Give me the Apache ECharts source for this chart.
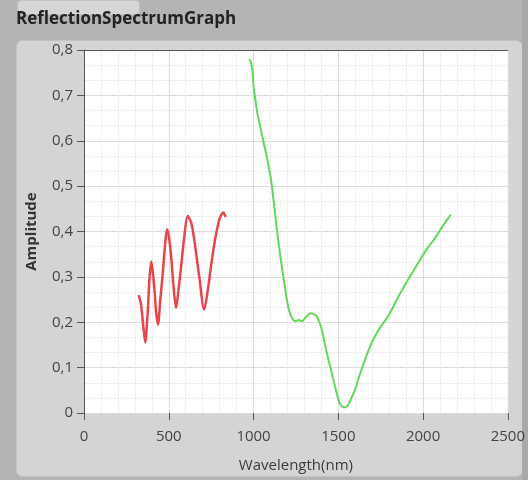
<!DOCTYPE html>
<html>
<head>
<meta charset="utf-8">
<script src="https://cdn.jsdelivr.net/npm/echarts@6/dist/echarts.min.js"></script>
<style>
html,body{margin:0;padding:0;background:#b4b4b4;}
#c{width:528px;height:480px;}
</style>
</head>
<body>
<div id="c"></div>
<script>
var xTicks = [0, 500, 1000, 1500, 2000, 2500];
var yTicks = [0, 0.1, 0.2, 0.3, 0.4, 0.5, 0.6, 0.7, 0.8];

var redWl = [322,330,338,350,362,370,377,387,397,406,416,426,436,450,465,478,490,502,514,528,543,557,573,592,612,632,651,680,709,728,749,772,797,810,821,836];
var redAmp = [0.26,0.25,0.235,0.19,0.155,0.19,0.23,0.30,0.334,0.31,0.27,0.22,0.195,0.25,0.31,0.37,0.405,0.385,0.345,0.28,0.232,0.27,0.323,0.39,0.434,0.42,0.38,0.30,0.228,0.265,0.323,0.38,0.425,0.437,0.442,0.432];

var greenWl = [973,983,993,1000,1010,1022,1037,1051,1063,1075,1088,1100,1110,1120,1133,1145,1162,1178,1193,1208,1228,1247,1266,1286,1310,1335,1355,1373,1388,1403,1422,1442,1457,1471,1486,1501,1515,1530,1545,1559,1578,1598,1627,1657,1686,1716,1755,1794,1823,1852,1890,1930,1960,1989,2020,2058,2090,2116,2140,2163];
var greenAmp = [0.78,0.775,0.755,0.72,0.692,0.662,0.635,0.611,0.59,0.57,0.545,0.522,0.495,0.463,0.42,0.382,0.335,0.294,0.258,0.228,0.208,0.202,0.205,0.202,0.212,0.22,0.218,0.213,0.2,0.183,0.15,0.117,0.095,0.073,0.05,0.029,0.017,0.0126,0.013,0.018,0.034,0.051,0.085,0.117,0.145,0.169,0.193,0.213,0.233,0.255,0.28,0.305,0.324,0.342,0.36,0.379,0.397,0.412,0.425,0.437];

function pairs(a, b) { return a.map(function (v, i) { return [v, b[i]]; }); }

var chart = echarts.init(document.getElementById('c'));
var tickFont = {color: '#444444', fontSize: 15, fontFamily: 'Open Sans'};
chart.setOption({
  backgroundColor: '#b4b4b4',
  animation: false,
  graphic: [
    {type: 'rect', left: 17, top: 0, shape: {width: 122, height: 14, r: 4}, style: {fill: '#d6d6d6', stroke: '#c4c4c4'}, z: -1},
    {type: 'rect', left: 16, top: 40, shape: {width: 506, height: 436, r: 6}, style: {fill: '#d4d4d4', stroke: '#c2c2c2', lineWidth: 1}, z: -1},
    {type: 'rect', left: 522, top: 0, shape: {width: 6, height: 480}, style: {fill: '#a9a9a9'}, z: -1},
    {type: 'text', left: 16, top: 11, style: {text: 'ReflectionSpectrumGraph', fill: '#222222', font: 'bold 17px "Open Sans"'}}
  ],
  grid: {left: 84, right: 17, top: 50, bottom: 67, show: true, backgroundColor: '#ffffff', borderWidth: 0},
  xAxis: [{
    type: 'value', min: 0, max: 2500, interval: 500,
    name: 'Wavelength(nm)', nameLocation: 'middle', nameGap: 45,
    nameTextStyle: {color: '#3c3c3c', fontSize: 15, fontFamily: 'Open Sans'},
    axisLine: {show: false},
    axisTick: {show: true, length: 7, lineStyle: {color: '#555'}},
    axisLabel: Object.assign({margin: 16, formatter: function (v) { return String(v); }}, tickFont),
    splitLine: {show: true, lineStyle: {color: '#dcdcdc', width: 1}},
    minorTick: {show: false, splitNumber: 5},
    minorSplitLine: {show: true, lineStyle: {color: '#efefef', width: 1}}
  }, {
    type: 'value', position: 'top', min: 0, max: 2500,
    axisLine: {show: true, lineStyle: {color: '#555', width: 1}},
    axisTick: {show: false}, axisLabel: {show: false}, splitLine: {show: false}
  }],
  yAxis: {
    type: 'value', min: 0, max: 0.8, interval: 0.1,
    name: 'Amplitude', nameLocation: 'middle', nameGap: 45,
    nameTextStyle: {color: '#333', fontSize: 15, fontWeight: 'bold', fontFamily: 'Open Sans'},
    axisLine: {show: true, lineStyle: {color: '#555', width: 1}},
    axisTick: {show: true, length: 7, lineStyle: {color: '#555'}},
    axisLabel: Object.assign({margin: 11, formatter: function (v) { return v === 0 ? '0' : v.toFixed(1).replace('.', ','); }}, tickFont),
    splitLine: {show: true, lineStyle: {color: '#dcdcdc', width: 1}},
    minorTick: {show: false, splitNumber: 3},
    minorSplitLine: {show: true, lineStyle: {color: '#efefef', width: 1}}
  },
  series: [{
    type: 'line', data: pairs(redWl, redAmp), showSymbol: false, smooth: 0.3,
    lineStyle: {color: '#e8454a', width: 2.5}
  }, {
    type: 'line', data: pairs(greenWl, greenAmp), showSymbol: false, smooth: 0.15,
    lineStyle: {color: '#62d85a', width: 2}
  }]
});
</script>
</body>
</html>
